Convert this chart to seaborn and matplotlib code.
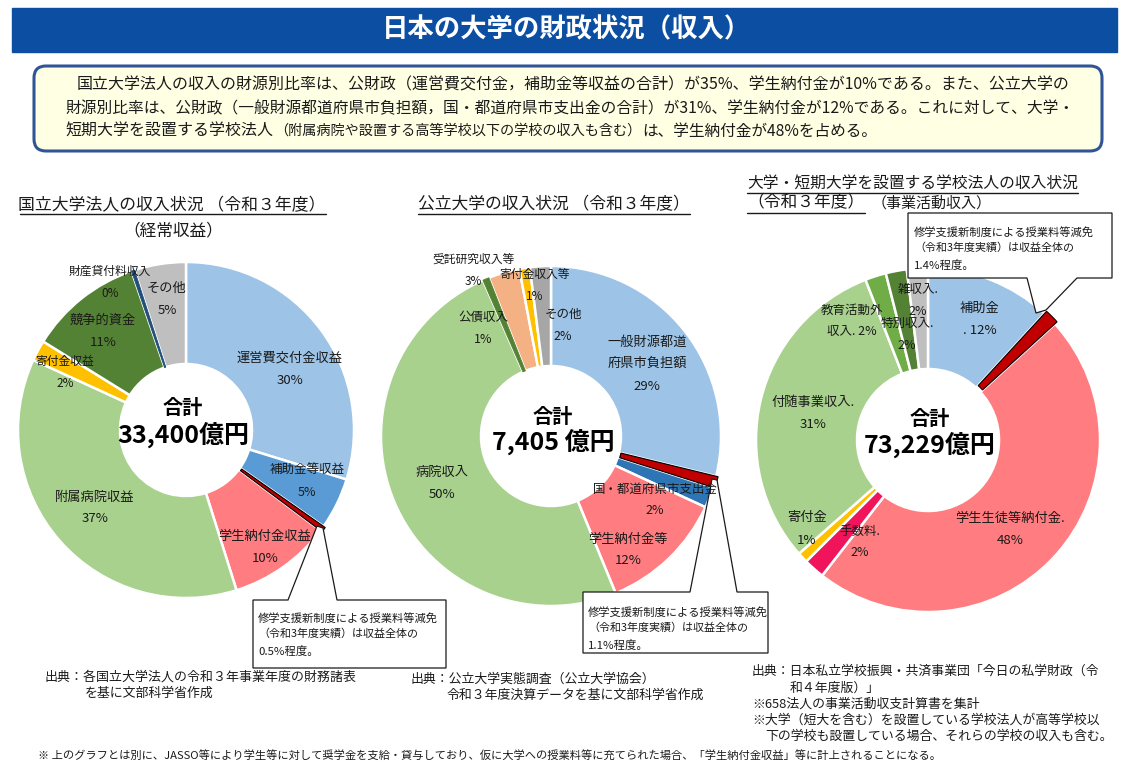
import matplotlib
matplotlib.use('Agg')
import matplotlib.pyplot as plt
import seaborn as sns
from matplotlib.patches import Rectangle, FancyBboxPatch, Polygon

sns.set_theme(style='white')
FONT = ['Noto Sans CJK JP', 'DejaVu Sans']
plt.rcParams['font.family'] = FONT

# ---------------- data ----------------
nat_labels = ['運営費交付金収益', '補助金等収益', '授業料等減免', '学生納付金収益',
              '附属病院収益', '寄付金収益', '競争的資金', '財産貸付料収入', 'その他']
nat_values = [30, 5, 0.5, 10, 37, 2, 11, 0.3, 5]
nat_pct = ['30%', '5%', '', '10%', '37%', '2%', '11%', '0%', '5%']
nat_total = '33,400億円'

pub_labels = ['一般財源都道\n府県市負担額', '授業料等減免', '国・都道府県市支出金', '学生納付金等',
              '病院収入', '公債収入', '受託研究収入等', '寄付金収入等', 'その他']
pub_values = [29, 1.1, 2, 12, 50, 0.6, 3, 1, 2]
pub_pct = ['29%', '', '2%', '12%', '50%', '1%', '3%', '1%', '2%']
pub_total = '7,405 億円'

pri_labels = ['補助金', '授業料等減免', '学生生徒等納付金.', '手数料.', '寄付金',
              '付随事業収入.', '教育活動外\n収入. 2%', '特別収入.', '雑収入.']
pri_values = [12, 1.4, 48, 2, 1, 31, 2, 2, 2]
pri_pct = ['. 12%', '', '48%', '2%', '1%', '31%', '', '2%', '2%']
pri_total = '73,229億円'

nat_colors = ['#9DC3E6', '#5B9BD5', '#C00000', '#FF7C80', '#A9D18E',
              '#FFC000', '#548235', '#1F4E79', '#BFBFBF']
pub_colors = ['#9DC3E6', '#C00000', '#2E75B6', '#FF7C80', '#A9D18E',
              '#548235', '#F4B183', '#FFC000', '#A6A6A6']
pri_colors = ['#9DC3E6', '#C00000', '#FF7C80', '#F0145A', '#FFC000',
              '#A9D18E', '#70AD47', '#548235', '#BFBFBF']

W, H = 1141, 765
fig = plt.figure(figsize=(W / 100, H / 100), dpi=100)
fig.patch.set_facecolor('white')
ax = fig.add_axes([0, 0, 1, 1])
ax.axis('off')


def set_lims():
    ax.set_xlim(0, W)
    ax.set_ylim(0, H)
    ax.set_aspect('equal')


set_lims()


def Y(y):
    return H - y


renderer = fig.canvas.get_renderer()


def txt(x, y, s, size=9, ha='center', va='center', weight='normal', color='#1a1a1a',
        width=None, z=10, ls=1.3):
    t = ax.text(x, Y(y), s, fontsize=size, ha=ha, va=va, fontweight=weight,
                color=color, zorder=z, linespacing=ls, family=FONT)
    if width is not None:
        w = t.get_window_extent(renderer).width
        t.set_fontsize(size * width / w)
    return t


def donut(values, colors, cx, cy, r, rin, special, expl, thin=()):
    explode = [expl if i == special else 0 for i in range(len(values))]
    wedges, _ = ax.pie(values, colors=sns.color_palette(colors), startangle=90,
                       counterclock=False, center=(cx, Y(cy)), radius=r,
                       explode=explode,
                       wedgeprops=dict(width=r - rin, edgecolor='white', linewidth=1.8))
    wedges[special].set_edgecolor('black')
    wedges[special].set_linewidth(0.8)
    wedges[special].set_zorder(3)
    for i in thin:
        wedges[i].set_edgecolor(colors[i])
        wedges[i].set_linewidth(0.6)
        wedges[i].set_zorder(3)
    set_lims()
    return wedges


def labels(items, pos, pct):
    for lab, p, pc in zip(items, pos, pct):
        if p is None:
            continue
        x, y, size = p
        if pc:
            txt(x, y - 11, lab, size=size)
            txt(x, y + 11, pc, size=size)
        else:
            txt(x, y, lab, size=size)


# ---------------- header ----------------
ax.add_patch(Rectangle((12, Y(52)), 1105, 44, color='#0B4EA2', zorder=1))
txt(567, 30, '日本の大学の財政状況（収入）', size=19, weight='bold', color='white')

ax.add_patch(FancyBboxPatch((34, Y(151)), 1068, 85,
                            boxstyle='round,pad=0,rounding_size=12',
                            facecolor='#FFFFE3', edgecolor='#2F5597', linewidth=2.2, zorder=1))
txt(77, 85, '国立大学法人の収入の財源別比率は、公財政（運営費交付金，補助金等収益の合計）が35%、学生納付金が10%である。また、公立大学の',
    size=11.5, ha='left', width=993)
txt(65, 109, '財源別比率は、公財政（一般財源都道府県市負担額，国・都道府県市支出金の合計）が31%、学生納付金が12%である。これに対して、大学・',
    size=11.5, ha='left', width=1008)
t1 = txt(65, 131, '短期大学を設置する学校法人', size=11.5, ha='left', width=208)
x1 = t1.get_window_extent(renderer).x1
t2 = txt(x1 + 1, 131, '（附属病院や設置する高等学校以下の学校の収入も含む）', size=9.5, ha='left', width=370)
x2 = t2.get_window_extent(renderer).x1
txt(x2 + 1, 131, 'は、学生納付金が48%を占める。', size=11.5, ha='left', width=236)

# ---------------- chart titles ----------------
txt(172, 206, '国立大学法人の収入状況 （令和３年度）', size=12, width=306)
ax.plot([20, 326], [Y(214), Y(214)], color='#1a1a1a', lw=1)
txt(173, 231, '（経常収益）', size=12)

txt(554, 205, '公立大学の収入状況 （令和３年度）', size=12, width=272)
ax.plot([418, 690], [Y(214), Y(214)], color='#1a1a1a', lw=1)

txt(747, 183, '大学・短期大学を設置する学校法人の収入状況', size=12, ha='left', width=331)
ax.plot([747, 1078], [Y(193), Y(193)], color='#1a1a1a', lw=1)
txt(747, 203, '（令和３年度）', size=12, ha='left', width=117)
ax.plot([747, 865], [Y(213), Y(213)], color='#1a1a1a', lw=1)
txt(872, 203, '（事業活動収入）', size=12, ha='left', width=120)

# ---------------- donuts ----------------
donut(nat_values, nat_colors, 186, 430, 168, 66, 2, 2, thin=(7,))
donut(pub_values, pub_colors, 551, 436, 170, 70, 1, 2, thin=(5,))
donut(pri_values, pri_colors, 928, 440, 172, 71, 1, 3)

nat_pos = [(290, 369, 9.5), (307, 481, 9), None, (265, 547, 9.5), (95, 508, 9.5),
           (65, 372, 8.5), (103, 331, 9.5), (110, 282, 8.5), (167, 299, 9.5)]
labels(nat_labels, nat_pos, nat_pct)
txt(183, 407, '合計', size=14.5, weight='bold', color='black')
txt(183, 435, nat_total, size=18, weight='bold', color='black')

pub_pos = [(647, 363, 9.5), None, (655, 500, 9), (628, 550, 9.5), (442, 483, 9.5),
           (483, 328, 9), (473, 270, 8.5), (535, 285, 8.5), (563, 325, 9)]
for lab, p, pc in zip(pub_labels, pub_pos, pub_pct):
    if p is None:
        continue
    x, y, size = p
    if '\n' in lab:
        a, b = lab.split('\n')
        txt(x, y - 21, a, size=size)
        txt(x, y, b, size=size)
        txt(x, y + 23, pc, size=size)
    else:
        txt(x, y - 11, lab, size=size)
        txt(x, y + 11, pc, size=size)
txt(553, 416, '合計', size=14.5, weight='bold', color='black')
txt(553, 442, pub_total, size=18, weight='bold', color='black')

pri_pos = [(980, 319, 9.5), None, (1010, 529, 9.5), (860, 542, 9), (807, 529, 9.5),
           (813, 413, 9.5), None, (907, 334, 9), (918, 300, 9)]
labels(pri_labels, pri_pos, pri_pct)
a, b = pri_labels[6].split('\n')
txt(852, 310, a, size=9)
txt(852, 331, b, size=9)
txt(930, 418, '合計', size=14.5, weight='bold', color='black')
txt(930, 445, pri_total, size=18, weight='bold', color='black')

# ---------------- callouts ----------------
note = '修学支援新制度による授業料等減免'
note2 = '（令和3年度実績）は収益全体の'


def callout(pts, tx, ty, pct_text):
    ax.add_patch(Polygon([(x, Y(y)) for x, y in pts], closed=True, facecolor='white',
                         edgecolor='#1a1a1a', linewidth=0.9, zorder=6))
    txt(tx, ty, note, size=8.2, ha='left', z=7, width=180)
    txt(tx, ty + 16, note2, size=8.2, ha='left', z=7, width=160)
    txt(tx, ty + 33, pct_text, size=8.2, ha='left', z=7)


callout([(253, 600), (288, 600), (317, 526), (323, 528), (337, 600), (446, 600),
         (446, 668), (253, 668)], 258, 618, '0.5%程度。')
callout([(583, 592), (690, 592), (712, 479), (717, 480), (737, 592), (768, 592),
         (768, 653), (583, 653)], 588, 612, '1.1%程度。')
callout([(908, 213), (1112, 213), (1112, 278), (1077, 278), (1046, 310), (1036, 313),
         (1027, 278), (908, 278)], 914, 232, '1.4%程度。')

# ---------------- sources ----------------
txt(45, 677, '出典：各国立大学法人の令和３年事業年度の財務諸表', size=9.3, ha='left', width=310)
txt(85, 693, 'を基に文部科学省作成', size=9.3, ha='left')
txt(410, 679, '出典：公立大学実態調査（公立大学協会）', size=9.3, ha='left')
txt(447, 695, '令和３年度決算データを基に文部科学省作成', size=9.3, ha='left')
txt(752, 671, '出典：日本私立学校振興・共済事業団「今日の私学財政（令', size=9.3, ha='left', width=346)
txt(790, 688, '和４年度版）」', size=9.3, ha='left')
txt(752, 704, '※658法人の事業活動収支計算書を集計', size=9.3, ha='left')
txt(752, 720, '※大学（短大を含む）を設置している学校法人が高等学校以', size=9.3, ha='left')
txt(765, 736, '下の学校も設置している場合、それらの学校の収入も含む。', size=9.3, ha='left')
txt(38, 755, '※ 上のグラフとは別に、JASSO等により学生等に対して奨学金を支給・貸与しており、仮に大学への授業料等に充てられた場合、「学生納付金収益」等に計上されることになる。',
    size=9.3, ha='left', width=900)

set_lims()
fig.savefig('out.png', dpi=100, facecolor='white')
